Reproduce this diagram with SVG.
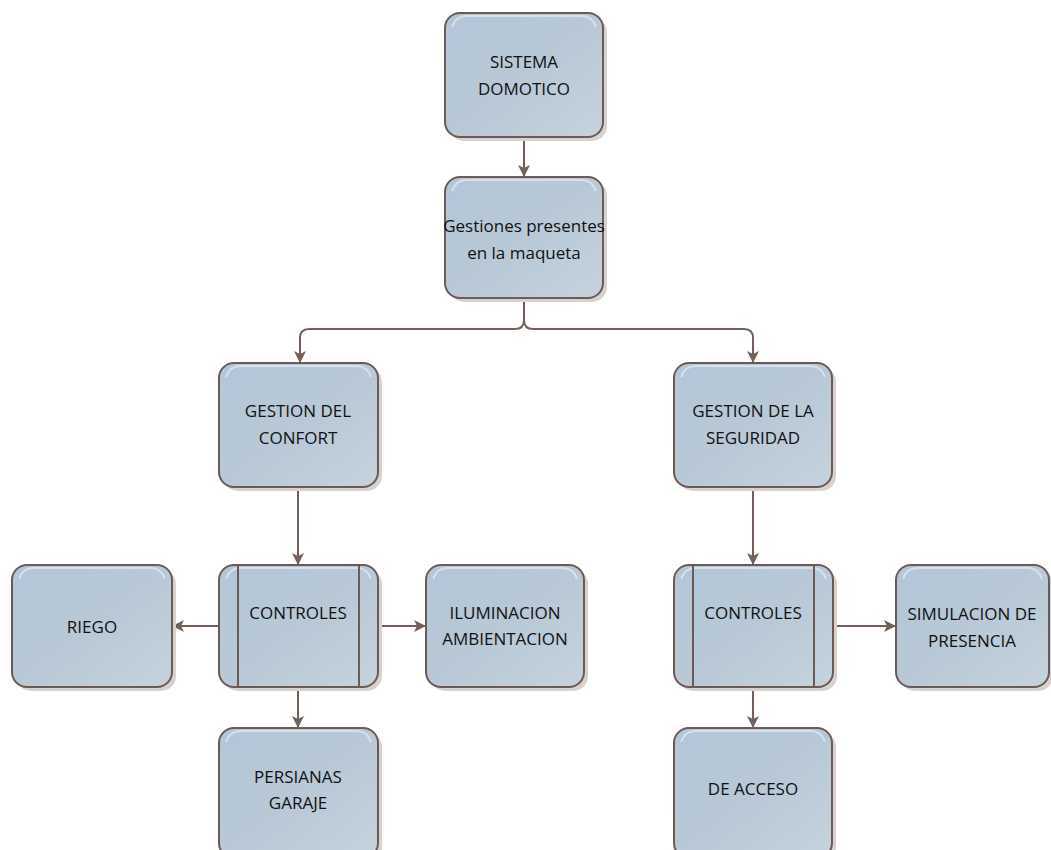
<svg xmlns="http://www.w3.org/2000/svg" width="1051" height="850" viewBox="0 0 1051 850">
<defs>
<linearGradient id="g" x1="0" y1="0" x2="1" y2="1">
<stop offset="0" stop-color="#b3c6d8"/>
<stop offset="0.5" stop-color="#b8c8d6"/>
<stop offset="1" stop-color="#c6d3de"/>
</linearGradient>
<marker id="ah" markerWidth="12" markerHeight="12" viewBox="0 0 12 12" refX="12" refY="6" orient="auto" markerUnits="userSpaceOnUse">
<path d="M0 0 L12 6 L0 12 L3 6 Z" fill="#74605a"/>
</marker>
</defs>
<style>
.sh{fill:#d8d2cf}
.bx{fill:url(#g);stroke:#6e5a54;stroke-width:2}
.hl{fill:none;stroke:#d3e2ee;stroke-width:2}
.dv{stroke:#6e5a54;stroke-width:2}
.t{font-family:"Open Sans","Noto Sans",sans-serif;font-size:17px;fill:#111;text-anchor:middle}
.c{fill:none;stroke:#74605a;stroke-width:2;marker-end:url(#ah)}
</style>
<rect width="1051" height="850" fill="#ffffff"/>
<g id="connectors">
<path class="c" d="M524 137 V177"/>
<path class="c" d="M524 298 V320 Q524 329 515 329 H309 Q300 329 300 338 V363"/>
<path class="c" d="M524 320 Q524 329 533 329 H744 Q753 329 753 338 V363"/>
<path class="c" d="M298 487 V565"/>
<path class="c" d="M219 626 H172"/>
<path class="c" d="M378 626 H426"/>
<path class="c" d="M298 687 V728"/>
<path class="c" d="M753 487 V565"/>
<path class="c" d="M833 626 H896"/>
<path class="c" d="M753 687 V728"/>
</g>
<g id="n1">
<rect class="sh" x="449" y="17" width="158" height="124" rx="15"/>
<rect class="bx" x="445" y="13" width="158" height="124" rx="15"/>
<path class="hl" d="M452 27 Q456 16 466 16 H582 Q592 16 596 27"/>
<text class="t" x="524" y="68">SISTEMA</text>
<text class="t" x="524" y="95">DOMOTICO</text>
</g>
<g id="n2">
<rect class="sh" x="449" y="181" width="158" height="121" rx="15"/>
<rect class="bx" x="445" y="177" width="158" height="121" rx="15"/>
<path class="hl" d="M452 191 Q456 180 466 180 H582 Q592 180 596 191"/>
<text class="t" x="524" y="232">Gestiones presentes</text>
<text class="t" x="524" y="259">en la maqueta</text>
</g>
<g id="n3">
<rect class="sh" x="223" y="367" width="159" height="124" rx="15"/>
<rect class="bx" x="219" y="363" width="159" height="124" rx="15"/>
<path class="hl" d="M226 377 Q230 366 240 366 H357 Q367 366 371 377"/>
<text class="t" x="298" y="417">GESTION DEL</text>
<text class="t" x="298" y="444">CONFORT</text>
</g>
<g id="n4">
<rect class="sh" x="678" y="367" width="158" height="124" rx="15"/>
<rect class="bx" x="674" y="363" width="158" height="124" rx="15"/>
<path class="hl" d="M681 377 Q685 366 695 366 H811 Q821 366 825 377"/>
<text class="t" x="753" y="417">GESTION DE LA</text>
<text class="t" x="753" y="444">SEGURIDAD</text>
</g>
<g id="n5">
<rect class="sh" x="223" y="569" width="159" height="122" rx="15"/>
<rect class="bx" x="219" y="565" width="159" height="122" rx="15"/>
<path class="hl" d="M226 579 Q230 568 240 568 H357 Q367 568 371 579"/>
<line class="dv" x1="238" y1="565" x2="238" y2="687"/>
<line class="dv" x1="359" y1="565" x2="359" y2="687"/>
<text class="t" x="298" y="619">CONTROLES</text>
</g>
<g id="n6">
<rect class="sh" x="16" y="569" width="160" height="122" rx="15"/>
<rect class="bx" x="12" y="565" width="160" height="122" rx="15"/>
<path class="hl" d="M19 579 Q23 568 33 568 H151 Q161 568 165 579"/>
<text class="t" x="92" y="633">RIEGO</text>
</g>
<g id="n7">
<rect class="sh" x="430" y="569" width="158" height="122" rx="15"/>
<rect class="bx" x="426" y="565" width="158" height="122" rx="15"/>
<path class="hl" d="M433 579 Q437 568 447 568 H563 Q573 568 577 579"/>
<text class="t" x="505" y="619">ILUMINACION</text>
<text class="t" x="505" y="645">AMBIENTACION</text>
</g>
<g id="n8">
<rect class="sh" x="223" y="732" width="159" height="130" rx="15"/>
<rect class="bx" x="219" y="728" width="159" height="130" rx="15"/>
<path class="hl" d="M226 742 Q230 731 240 731 H357 Q367 731 371 742"/>
<text class="t" x="298" y="783">PERSIANAS</text>
<text class="t" x="298" y="809">GARAJE</text>
</g>
<g id="n9">
<rect class="sh" x="678" y="569" width="159" height="122" rx="15"/>
<rect class="bx" x="674" y="565" width="159" height="122" rx="15"/>
<path class="hl" d="M681 579 Q685 568 695 568 H812 Q822 568 826 579"/>
<line class="dv" x1="693" y1="565" x2="693" y2="687"/>
<line class="dv" x1="814" y1="565" x2="814" y2="687"/>
<text class="t" x="753" y="619">CONTROLES</text>
</g>
<g id="n10">
<rect class="sh" x="900" y="569" width="153" height="122" rx="15"/>
<rect class="bx" x="896" y="565" width="153" height="122" rx="15"/>
<path class="hl" d="M903 579 Q907 568 917 568 H1028 Q1038 568 1042 579"/>
<text class="t" x="972" y="620">SIMULACION DE</text>
<text class="t" x="972" y="647">PRESENCIA</text>
</g>
<g id="n11">
<rect class="sh" x="678" y="732" width="158" height="130" rx="15"/>
<rect class="bx" x="674" y="728" width="158" height="130" rx="15"/>
<path class="hl" d="M681 742 Q685 731 695 731 H811 Q821 731 825 742"/>
<text class="t" x="753" y="795">DE ACCESO</text>
</g>
</svg>
